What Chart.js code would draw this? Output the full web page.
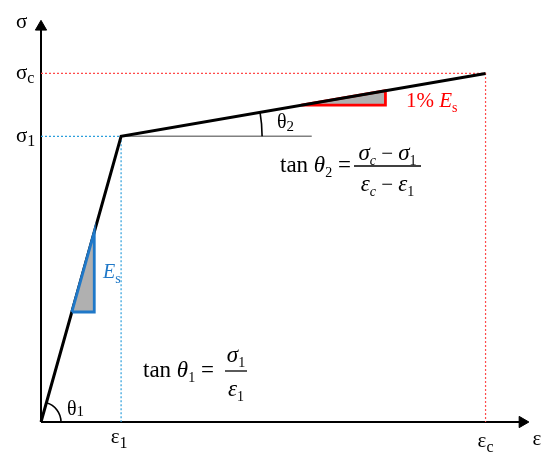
<!DOCTYPE html>
<html>
<head>
<meta charset="utf-8">
<script src="https://cdn.jsdelivr.net/npm/chart.js@4.4.1/dist/chart.umd.min.js"></script>
<style>
  html, body { margin: 0; padding: 0; background: #fff; }
</style>
</head>
<body>
<canvas id="chart" width="550" height="462"></canvas>
<script>
// bilinear stress-strain model (strain in units of eps1, stress in units of sigma1)
const strain = [0, 1, 5.55];          // 0, eps1, epsc
const stress = [0, 1, 1.22];          // 0, sigma1, sigmac
const axisEnd = [6.01, 1.383];        // arrow heads on the strain / stress axes
const refLineEnd = 3.38;              // horizontal line from the knee (theta2)
const elasticTriX = [0.385, 0.665, 0.665, 0.385];
const elasticTriY = [0.385, 0.665, 0.385, 0.385];
const plasticTriX = [3.25, 4.30, 4.30, 3.25];
const plasticTriY = [1.109, 1.160, 1.109, 1.109];

const SERIF = "'Liberation Serif', 'DejaVu Serif', serif";

const pts = (xs, ys) => xs.map((x, i) => ({ x: x, y: ys[i] }));

// draws a run of text pieces: [text, size, italic, dy]
function rich(ctx, x, y, parts, align) {
  const font = p => (p[2] ? 'italic ' : '') + p[1] + 'px ' + SERIF;
  let w = 0;
  parts.forEach(p => { ctx.font = font(p); w += ctx.measureText(p[0]).width; });
  let cx = align === 'center' ? x - w / 2 : align === 'right' ? x - w : x;
  parts.forEach(p => {
    ctx.font = font(p);
    ctx.fillText(p[0], cx, y + (p[3] || 0));
    cx += ctx.measureText(p[0]).width;
  });
  return w;
}

function fraction(ctx, x0, x1, barY, num, numY, den, denY) {
  const mid = (x0 + x1) / 2;
  rich(ctx, mid, numY, num, 'center');
  rich(ctx, mid, denY, den, 'center');
  ctx.beginPath();
  ctx.moveTo(x0, barY);
  ctx.lineTo(x1, barY);
  ctx.lineWidth = 1.3;
  ctx.stroke();
}

const notes = {
  id: 'notes',
  afterDatasetsDraw(chart) {
    const ctx = chart.ctx;
    const sx = chart.scales.x, sy = chart.scales.y;
    const px = v => sx.getPixelForValue(v), py = v => sy.getPixelForValue(v);
    ctx.save();
    ctx.textBaseline = 'alphabetic';
    ctx.fillStyle = '#000';
    ctx.strokeStyle = '#000';

    // angle arcs
    const ox = px(strain[0]), oy = py(stress[0]);
    const kx = px(strain[1]), ky = py(stress[1]);
    const ex = px(strain[2]), ey = py(stress[2]);
    ctx.lineWidth = 1.6;
    ctx.beginPath();
    ctx.arc(ox, oy, 20, Math.atan2(ky - oy, kx - ox), 0);
    ctx.stroke();
    ctx.beginPath();
    ctx.arc(kx, ky, 141, Math.atan2(ey - ky, ex - kx), 0);
    ctx.stroke();

    // axis labels
    rich(ctx, 16, 28, [['σ', 21]]);
    rich(ctx, 16, py(stress[2]) + 6, [['σ', 21], ['c', 16, false, 4]]);
    rich(ctx, 16, py(stress[1]) + 6, [['σ', 21], ['1', 16, false, 4]]);
    rich(ctx, px(strain[1]) - 2, 443, [['ε', 21], ['1', 16, false, 5]], 'center');
    rich(ctx, px(strain[2]), 447, [['ε', 21], ['c', 16, false, 5]], 'center');
    rich(ctx, 537, 445, [['ε', 21]], 'center');
    rich(ctx, 67, 415, [['θ', 20], ['1', 15, false, 1]]);
    rich(ctx, 277, 128, [['θ', 20], ['2', 15, false, 3]]);

    // slope labels
    ctx.fillStyle = '#1f78c8';
    rich(ctx, 103, 278, [['E', 20, true], ['s', 14, false, 5]]);
    ctx.fillStyle = '#ff0000';
    rich(ctx, 406, 107, [['1% ', 21], ['E', 21, true], ['s', 14, false, 5]]);

    // formulas
    ctx.fillStyle = '#000';
    rich(ctx, 280, 172, [['tan ', 23], ['θ', 23, true], ['2', 14, false, 5], [' =', 23]]);
    fraction(ctx, 354, 421, 166,
      [['σ', 23, true], ['c', 14, true, 5], [' − ', 21], ['σ', 23, true], ['1', 14, false, 5]], 160,
      [['ε', 23, true], ['c', 14, true, 5], [' − ', 21], ['ε', 23, true], ['1', 14, false, 5]], 191);
    rich(ctx, 143, 377, [['tan ', 23], ['θ', 23, true], ['1', 14, false, 5], [' =', 23]]);
    fraction(ctx, 225, 247, 371,
      [['σ', 23, true], ['1', 14, false, 5]], 362,
      [['ε', 23, true], ['1', 14, false, 5]], 396);
    ctx.restore();
  }
};

const dotted = (data, color) => ({
  data: data, borderColor: color, borderWidth: 1.2, borderDash: [2, 2],
  pointRadius: 0, fill: false
});

new Chart(document.getElementById('chart').getContext('2d'), {
  type: 'line',
  data: {
    datasets: [
      { // elastic slope triangle (on top of the curve)
        data: pts(elasticTriX, elasticTriY),
        borderColor: '#1f78c8', borderWidth: 2.8, backgroundColor: '#b0b0b0',
        fill: 'shape', pointRadius: 0, borderJoinStyle: 'miter'
      },
      { // stress-strain curve
        data: pts(strain, stress),
        borderColor: '#000', borderWidth: 3, pointRadius: 0, fill: false
      },
      { // hardening slope triangle
        data: pts(plasticTriX, plasticTriY),
        borderColor: '#ff0000', borderWidth: 2.8, backgroundColor: '#b0b0b0',
        fill: 'shape', pointRadius: 0, borderJoinStyle: 'miter'
      },
      { // reference horizontal from knee
        data: [{ x: strain[1], y: stress[1] }, { x: refLineEnd, y: stress[1] }],
        borderColor: '#808080', borderWidth: 1.5, pointRadius: 0, fill: false
      },
      dotted([{ x: 0, y: stress[1] }, { x: strain[1], y: stress[1] }, { x: strain[1], y: 0 }], '#2d9fdc'),
      dotted([{ x: 0, y: stress[2] }, { x: strain[2], y: stress[2] }, { x: strain[2], y: 0 }], '#ff4a4a'),
      { // strain axis
        data: [{ x: 0, y: 0 }, { x: axisEnd[0], y: 0 }],
        borderColor: '#000', borderWidth: 2, fill: false,
        pointRadius: [0, 6.5], pointStyle: 'triangle', pointRotation: 90,
        pointBackgroundColor: '#000', pointBorderColor: '#000', pointBorderWidth: 1
      },
      { // stress axis
        data: [{ x: 0, y: 0 }, { x: 0, y: axisEnd[1] }],
        borderColor: '#000', borderWidth: 2, fill: false,
        pointRadius: [0, 6.5], pointStyle: 'triangle', pointRotation: 0,
        pointBackgroundColor: '#000', pointBorderColor: '#000', pointBorderWidth: 1
      }
    ]
  },
  options: {
    responsive: false,
    animation: false,
    devicePixelRatio: 1,
    clip: false,
    layout: { padding: { left: 41, right: 5, top: 10, bottom: 40 } },
    scales: {
      x: { type: 'linear', min: 0, max: 6.261, display: false },
      y: { type: 'linear', min: 0, max: 1.442, display: false }
    },
    elements: { line: { tension: 0 } },
    plugins: { legend: { display: false }, tooltip: { enabled: false } }
  },
  plugins: [notes]
});
</script>
</body>
</html>
